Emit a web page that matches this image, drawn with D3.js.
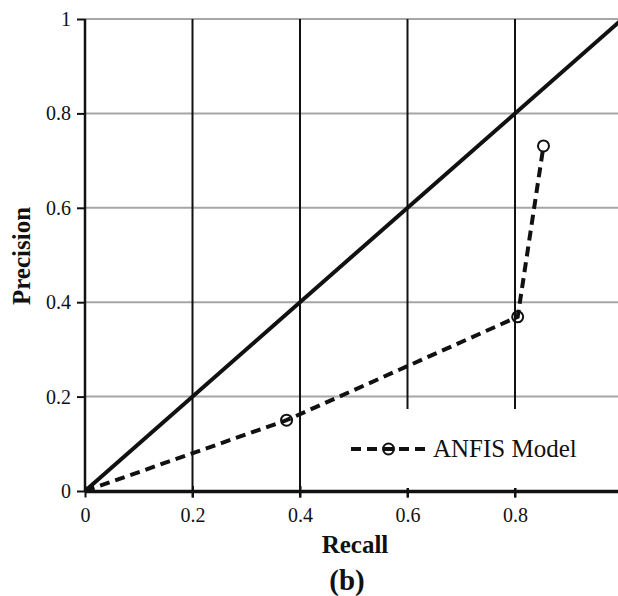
<!DOCTYPE html>
<html>
<head>
<meta charset="utf-8">
<script src="https://cdn.jsdelivr.net/npm/d3@7"></script>
<style>
  html, body { margin: 0; padding: 0; background: #fff; }
  svg { display: block; }
  text { font-family: "Liberation Serif", "Times New Roman", "DejaVu Serif", serif; fill: #111; }
</style>
</head>
<body>
<svg id="chart" width="618" height="596"></svg>
<script>
// Precision–recall points of the ANFIS model
const recall    = [0, 0.375, 0.805, 0.853];
const precision = [0, 0.15, 0.369, 0.731];
const seriesName = "ANFIS Model";

// Reference diagonal (precision = recall)
const diagonal = [[0, 0], [1, 1]];

// Axis ticks
const xTicks = [0, 0.2, 0.4, 0.6, 0.8];
const xGrid  = [0.2, 0.4, 0.6, 0.8];
const yTicks = [0, 0.2, 0.4, 0.6, 0.8, 1];
const yGrid  = [0.2, 0.4, 0.6, 0.8, 1];

const SERIF = '"Liberation Serif", "Times New Roman", "DejaVu Serif", serif';
const svg = d3.select("#chart");
const W = 618, H = 596;
const plotLeft = 85, plotTop = 19, plotBottom = 491;

const x = d3.scaleLinear().domain([0, 1]).range([plotLeft, 622.5]);
const y = d3.scaleLinear().domain([0, 1]).range([plotBottom, plotTop]);
const fmt = d => d === 0 ? "0" : (d === 1 ? "1" : d3.format(".1f")(d));

// horizontal grey gridlines
svg.append("g")
  .selectAll("line").data(yGrid).join("line")
  .attr("x1", plotLeft).attr("x2", W)
  .attr("y1", d => y(d)).attr("y2", d => y(d))
  .attr("stroke", "#a6a6a6").attr("stroke-width", 2);

// vertical black gridlines (continue through the axis as ticks)
svg.append("g")
  .selectAll("line").data(xGrid).join("line")
  .attr("x1", d => x(d)).attr("x2", d => x(d))
  .attr("y1", plotTop).attr("y2", plotBottom + 6.5)
  .attr("stroke", "#111").attr("stroke-width", 2);

// x axis
const xAxis = svg.append("g")
  .attr("transform", `translate(0,${plotBottom})`)
  .call(d3.axisBottom(x).tickValues(xTicks).tickFormat(fmt).tickSize(6.5).tickPadding(10));
xAxis.attr("font-family", SERIF);
xAxis.select(".domain").remove();
xAxis.selectAll(".tick line")
  .attr("y1", -5).attr("stroke", "#111").attr("stroke-width", 2);
xAxis.selectAll(".tick text")
  .style("font-family", SERIF).style("font-size", "20px").attr("fill", "#111");

// y axis
const yAxis = svg.append("g")
  .attr("transform", `translate(${plotLeft},0)`)
  .call(d3.axisLeft(y).tickValues(yTicks).tickFormat(fmt).tickSize(8).tickPadding(6));
yAxis.attr("font-family", SERIF);
yAxis.select(".domain").remove();
yAxis.selectAll(".tick line").attr("stroke", "#111").attr("stroke-width", 2);
yAxis.selectAll(".tick text")
  .style("font-family", SERIF).style("font-size", "20px").attr("fill", "#111");

// axis lines
svg.append("line")
  .attr("x1", plotLeft).attr("x2", plotLeft).attr("y1", plotTop).attr("y2", plotBottom)
  .attr("stroke", "#111").attr("stroke-width", 2.5);
svg.append("line")
  .attr("x1", plotLeft).attr("x2", W).attr("y1", plotBottom + 0.5).attr("y2", plotBottom + 0.5)
  .attr("stroke", "#111").attr("stroke-width", 3.5);

// legend box (covers gridlines behind it)
const legend = svg.append("g");
legend.append("rect")
  .attr("x", 335).attr("y", 409).attr("width", 270).attr("height", 79)
  .attr("fill", "#fff");

// diagonal line
const line = d3.line().x(d => x(d[0])).y(d => y(d[1]));
svg.append("path")
  .datum(diagonal)
  .attr("d", line)
  .attr("fill", "none").attr("stroke", "#111").attr("stroke-width", 4);

// ANFIS series
const pts = recall.map((r, i) => [r, precision[i]]);
svg.append("path")
  .datum(pts)
  .attr("d", line)
  .attr("fill", "none").attr("stroke", "#111").attr("stroke-width", 4)
  .attr("stroke-dasharray", "10,6");
svg.append("g")
  .selectAll("circle").data(pts.slice(1)).join("circle")
  .attr("cx", d => x(d[0])).attr("cy", d => y(d[1]))
  .attr("r", 5.5)
  .attr("fill", "none").attr("stroke", "#111").attr("stroke-width", 2);

// legend entry
legend.append("line")
  .attr("x1", 351).attr("x2", 426).attr("y1", 449).attr("y2", 449)
  .attr("stroke", "#111").attr("stroke-width", 4).attr("stroke-dasharray", "10,6");
legend.append("circle")
  .attr("cx", 388.5).attr("cy", 449).attr("r", 5.5)
  .attr("fill", "none").attr("stroke", "#111").attr("stroke-width", 2);
legend.append("text")
  .attr("x", 433).attr("y", 457)
  .style("font-family", SERIF).style("font-size", "25px")
  .text(seriesName);

// axis titles
svg.append("text")
  .attr("transform", "translate(30,256) rotate(-90)")
  .attr("text-anchor", "middle")
  .style("font-family", SERIF).style("font-size", "25px").style("font-weight", "bold")
  .text("Precision");
svg.append("text")
  .attr("x", 355).attr("y", 553)
  .attr("text-anchor", "middle")
  .style("font-family", SERIF).style("font-size", "25px").style("font-weight", "bold")
  .text("Recall");
svg.append("text")
  .attr("x", 347).attr("y", 590)
  .attr("text-anchor", "middle")
  .style("font-family", SERIF).style("font-size", "29px").style("font-weight", "bold")
  .text("(b)");
</script>
</body>
</html>
